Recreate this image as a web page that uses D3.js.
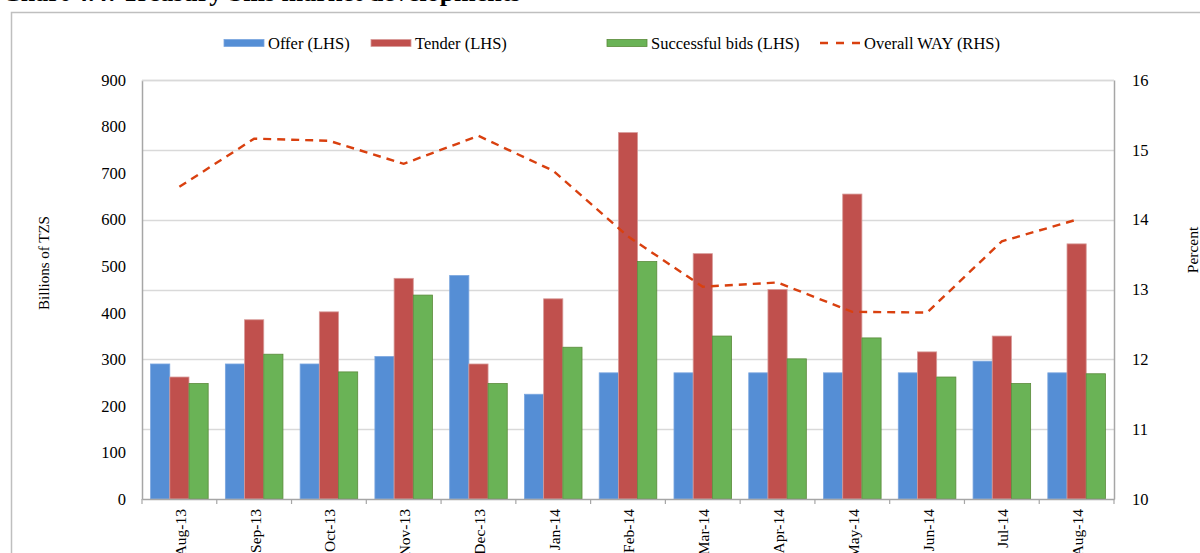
<!DOCTYPE html>
<html>
<head>
<meta charset="utf-8">
<script src="https://cdn.jsdelivr.net/npm/d3@7"></script>
<style>
  body { margin: 0; background: #fff; }
  svg text { font-family: "Liberation Serif", "Times New Roman", serif; fill: #000; }
</style>
</head>
<body>
<div id="chart"></div>
<script>
// chart data
var months = ["Aug-13", "Sep-13", "Oct-13", "Nov-13", "Dec-13", "Jan-14", "Feb-14",
              "Mar-14", "Apr-14", "May-14", "Jun-14", "Jul-14", "Aug-14"];
var offer = [290, 290, 290, 306, 480, 225, 271, 271, 271, 271, 271, 296, 271];
var tender = [262, 385, 402, 474, 290, 430, 787, 527, 450, 655, 316, 350, 548];
var successful = [248, 311, 273, 438, 248, 326, 510, 350, 301, 346, 262, 248, 269];
var way = [14.47, 15.16, 15.13, 14.8, 15.2, 14.7, 13.76, 13.04, 13.1, 12.68, 12.67, 13.69, 14.0];
var leftTicks = [0, 100, 200, 300, 400, 500, 600, 700, 800, 900];
var rightTicks = [10, 11, 12, 13, 14, 15, 16];

var svgWidth = 1200, svgHeight = 553;
var margin = { top: 80, bottom: 54, left: 142, right: 86 };
var width = svgWidth - margin.left - margin.right;
var height = svgHeight - margin.top - margin.bottom;

var svg = d3.select("#chart").append("svg")
    .attr("width", svgWidth)
    .attr("height", svgHeight);

// cut off title and outer frame
svg.append("text")
    .attr("x", 2)
    .attr("y", 1)
    .attr("font-size", "26px")
    .attr("font-weight", "bold")
    .text("Chart 4.4: Treasury bills market developments");

svg.append("path")
    .attr("d", "M11.5,553 V12.5 H1200")
    .attr("fill", "none")
    .attr("stroke", "#bfbfbf")
    .attr("stroke-width", 1.5);

var chartGroup = svg.append("g")
    .attr("transform", `translate(${margin.left}, ${margin.top})`);

// scales
var x0 = d3.scaleBand().domain(months).range([0, width]).paddingInner(0.23).paddingOuter(0.115);
var xCat = d3.scaleBand().domain(months).range([0, width]);
var series = ["offer", "tender", "successful"];
var x1 = d3.scaleBand().domain(series).range([0, x0.bandwidth()]);
var yLeft = d3.scaleLinear().domain([0, 900]).range([height, 0]);
var yRight = d3.scaleLinear().domain([10, 16]).range([height, 0]);

// gridlines follow right axis
chartGroup.selectAll(".grid")
    .data(rightTicks.slice(1))
    .enter()
    .append("line")
    .attr("x1", 0)
    .attr("x2", width)
    .attr("y1", d => Math.round(yRight(d)) + 0.5)
    .attr("y2", d => Math.round(yRight(d)) + 0.5)
    .attr("stroke", "#d9d9d9")
    .attr("stroke-width", 1.3);

// bars
var colors = { offer: "#558ed5", tender: "#c0504d", successful: "#6ab356" };
var strokes = { offer: "#7aa6df", tender: "#d79a98", successful: "#5a8a3a" };
var values = { offer: offer, tender: tender, successful: successful };

series.forEach(function(s) {
    chartGroup.selectAll(".bar-" + s)
        .data(months)
        .enter()
        .append("rect")
        .attr("x", d => x0(d) + x1(s))
        .attr("width", x1.bandwidth())
        .attr("y", (d, i) => yLeft(values[s][i]))
        .attr("height", (d, i) => height - yLeft(values[s][i]))
        .attr("fill", colors[s])
        .attr("stroke", strokes[s])
        .attr("stroke-width", 0.8);
});

// WAY line
var line = d3.line()
    .x((d, i) => xCat(months[i]) + xCat.bandwidth() / 2)
    .y(d => yRight(d));

chartGroup.append("path")
    .datum(way)
    .attr("d", line)
    .attr("fill", "none")
    .attr("stroke", "#d9400f")
    .attr("stroke-width", 2.4)
    .attr("stroke-dasharray", "8,6");

// axes
var xAxis = d3.axisBottom(xCat).tickSize(0).tickFormat("");
chartGroup.append("g")
    .attr("transform", `translate(0, ${height})`)
    .call(xAxis)
    .call(g => g.select(".domain").attr("stroke", "#a6a6a6").attr("stroke-width", 1.5));

// category boundary ticks
chartGroup.selectAll(".xtick")
    .data(d3.range(months.length + 1))
    .enter()
    .append("line")
    .attr("x1", d => d * xCat.step())
    .attr("x2", d => d * xCat.step())
    .attr("y1", height)
    .attr("y2", height + 5)
    .attr("stroke", "#a6a6a6")
    .attr("stroke-width", 1.2);

chartGroup.selectAll(".xlabel")
    .data(months)
    .enter()
    .append("text")
    .attr("transform", d => `translate(${xCat(d) + xCat.bandwidth() / 2 + 1}, ${height + 10}) rotate(-90)`)
    .attr("text-anchor", "end")
    .attr("dy", "0.35em")
    .attr("font-size", "15.5px")
    .text(d => d);

var yAxisLeft = d3.axisLeft(yLeft).tickValues(leftTicks).tickSize(0).tickPadding(16);
chartGroup.append("g")
    .call(yAxisLeft)
    .call(g => g.select(".domain").attr("stroke", "#a6a6a6").attr("stroke-width", 1.5))
    .call(g => g.selectAll("text").attr("font-size", "16.5px").attr("font-family", "Liberation Serif"));

var yAxisRight = d3.axisRight(yRight).tickValues(rightTicks).tickFormat(d3.format("d")).tickSize(0).tickPadding(18);
chartGroup.append("g")
    .attr("transform", `translate(${width}, 0)`)
    .call(yAxisRight)
    .call(g => g.select(".domain").attr("stroke", "#a6a6a6").attr("stroke-width", 1.5))
    .call(g => g.selectAll("text").attr("font-size", "16.5px").attr("font-family", "Liberation Serif"));

// plot top border
chartGroup.append("line")
    .attr("x1", 0).attr("x2", width)
    .attr("y1", 0.5).attr("y2", 0.5)
    .attr("stroke", "#d9d9d9")
    .attr("stroke-width", 1.3);

// axis titles
svg.append("text")
    .attr("transform", "translate(44, 263) rotate(-90)")
    .attr("text-anchor", "middle")
    .attr("dy", "0.35em")
    .attr("font-size", "15px")
    .text("Billions  of TZS");

svg.append("text")
    .attr("transform", "translate(1193, 250) rotate(-90)")
    .attr("text-anchor", "middle")
    .attr("dy", "0.35em")
    .attr("font-size", "15.5px")
    .text("Percent");

// legend
var legendItems = [
    { label: "Offer (LHS)", x: 224, type: "rect", color: colors.offer, stroke: strokes.offer },
    { label: "Tender (LHS)", x: 371, type: "rect", color: colors.tender, stroke: strokes.tender },
    { label: "Successful bids (LHS)", x: 607, type: "rect", color: colors.successful, stroke: strokes.successful },
    { label: "Overall WAY (RHS)", x: 820, type: "line", color: "#d9400f" }
];

var legend = svg.append("g").attr("transform", "translate(0, 43)");
legendItems.forEach(function(item) {
    if (item.type === "rect") {
        legend.append("rect")
            .attr("x", item.x).attr("y", -3.5)
            .attr("width", 40).attr("height", 7)
            .attr("fill", item.color)
            .attr("stroke", item.stroke)
            .attr("stroke-width", 0.8);
    } else {
        legend.append("line")
            .attr("x1", item.x).attr("x2", item.x + 40)
            .attr("y1", 0).attr("y2", 0)
            .attr("stroke", item.color)
            .attr("stroke-width", 2.4)
            .attr("stroke-dasharray", "8,8");
    }
    legend.append("text")
        .attr("x", item.x + 44)
        .attr("dy", "0.35em")
        .attr("font-size", "16.5px")
        .text(item.label);
});
</script>
</body>
</html>
